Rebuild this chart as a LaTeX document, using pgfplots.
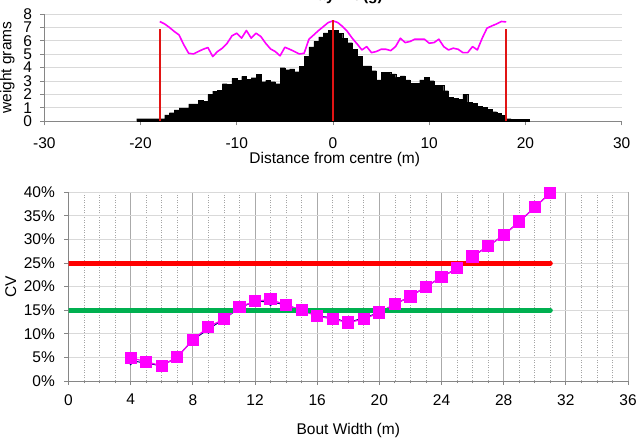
\documentclass[border=0pt]{standalone}
\usepackage{fontspec}
\setmainfont{Liberation Sans}
\usepackage{pgfplots}
\pgfplotsset{compat=1.18}
\definecolor{gridgray}{RGB}{217,217,217}
\definecolor{axisgray}{RGB}{134,134,134}
\definecolor{mingray}{RGB}{165,165,165}
\definecolor{majgray}{RGB}{170,170,170}
\definecolor{histred}{RGB}{225,20,20}
\definecolor{mag}{RGB}{255,0,255}
\definecolor{navyblue}{RGB}{0,0,128}
\definecolor{lgreen}{RGB}{0,176,80}
\begin{document}
\begin{tikzpicture}[font=\fontsize{15.5}{18.6}\selectfont]
\useasboundingbox (0,0) rectangle (636pt,438pt);
% ---------------- top chart ----------------
\begin{axis}[
  at={(44.3pt,316.7pt)}, anchor=south west, scale only axis,
  width=577.4pt, height=107.3pt,
  xmin=-30, xmax=30, ymin=0, ymax=8,
  axis x line*=bottom, axis y line*=left,
  axis line style={draw=axisgray, line width=0.8pt},
  xtick={-30,-20,...,30}, ytick={0,1,...,8},
  ymajorgrids, major grid style={draw=gridgray, line width=0.8pt},
  tick align=outside, major tick length=4pt,
  tick style={draw=axisgray, line width=0.8pt},
  /pgf/number format/assume math mode=true,
  xticklabel style={inner sep=0pt, anchor=north, yshift=-12pt},
  yticklabel style={inner sep=0pt, anchor=east, xshift=-8pt},
  title={Tray Wt (g)},
  title style={at={(axis description cs:0.517,1)}, anchor=base, yshift=7pt, font=\fontsize{15.5}{18.6}\selectfont\bfseries},
  xlabel={Distance from centre (m)},
  xlabel style={at={(axis description cs:0.503,0)}, anchor=base, yshift=-42pt},
  ylabel={weight grams},
  ylabel style={at={(axis description cs:-0.057,0.5)}, anchor=base},
  clip=false,
]
\addplot[const plot, fill=black, draw=black, line width=0.1pt] coordinates {
(-20.4,0.2) (-20,0.2) (-19.5,0.2) (-19,0.2) (-18.5,0.2) (-18,0.2) (-17.5,0.47) (-17,0.65)
(-16.5,0.85) (-16,1.0) (-15.5,1.0) (-15,1.3) (-14.5,1.3) (-14,1.55) (-13.5,1.5) (-13,2.0)
(-12.5,2.25) (-12,2.3) (-11.5,2.8) (-11,2.75) (-10.5,3.2) (-10,3.05) (-9.5,3.35) (-9,3.15)
(-8.5,3.25) (-8,3.5) (-7.5,2.95) (-7,3.05) (-6.5,2.95) (-6,2.8) (-5.5,4.0) (-5,3.85)
(-4.5,3.9) (-4,3.7) (-3.5,4.1) (-3,4.85) (-2.5,5.55) (-2,5.95) (-1.5,6.3) (-1,6.6)
(-0.5,6.8) (0,6.8) (0.5,6.57) (1,6.2) (1.5,5.87) (2,5.37) (2.5,4.83) (3,4.13)
(3.5,4.13) (4,3.78) (4.5,3.08) (5,3.65) (5.5,3.65) (6,3.53) (6.5,3.28) (7,3.38)
(7.5,3.08) (8,2.83) (8.5,2.83) (9,3.08) (9.5,3.28) (10,3.03) (10.5,2.7) (11,2.7)
(11.5,2.29) (12,1.79) (12.5,1.72) (13,1.64) (13.5,2.0) (14,1.42) (14.5,1.34) (15,1.14)
(15.5,1.04) (16,0.9) (16.5,0.72) (17,0.6) (17.5,0.45) (18,0.2) (18.5,0.17) (19,0.17)
(19.5,0.17) (20,0.17) (20.4,0.17)
} \closedcycle;
\addplot[mag, line width=1.6pt, line join=round] coordinates {
(-18,7.44) (-17.5,7.26) (-17,7.0) (-16.5,6.7) (-16,6.44) (-15.5,5.7) (-15,5.07) (-14.5,5.02)
(-14,5.2) (-13.5,5.37) (-13,5.5) (-12.5,4.83) (-12,5.2) (-11.5,5.45) (-11,5.82) (-10.5,6.37)
(-10,6.57) (-9.5,6.2) (-9,6.77) (-8.5,6.2) (-8,6.57) (-7.5,6.32) (-7,5.82) (-6.5,5.4)
(-6,5.2) (-5.5,4.88) (-5,5.52) (-4.5,5.37) (-4,5.2) (-3.5,5.02) (-3,5.07) (-2.5,6.12)
(-2,6.44) (-1.5,6.77) (-1,7.06) (-0.5,7.36) (0,7.49) (0.5,7.36) (1,7.06) (1.5,6.69)
(2,6.19) (2.5,5.77) (3,5.32) (3.5,5.57) (4,5.12) (4.5,5.2) (5,5.37) (5.5,5.37)
(6,5.27) (6.5,5.57) (7,6.19) (7.5,5.87) (8,5.95) (8.5,6.12) (9,6.12) (9.5,6.12)
(10,5.82) (10.5,5.87) (11,6.12) (11.5,5.57) (12,5.32) (12.5,5.45) (13,5.37) (13.5,5.12)
(14,5.12) (14.5,5.57) (15,5.32) (15.5,6.19) (16,6.94) (16.5,7.11) (17,7.26) (17.5,7.44)
(18,7.41)
};
\addplot[histred, line width=1.8pt] coordinates {(-18,0) (-18,6.87)};
\addplot[histred, line width=1.8pt] coordinates {(0,0) (0,7.56)};
\addplot[histred, line width=1.8pt] coordinates {(18,0) (18,6.87)};
\end{axis}
% ---------------- bottom chart ----------------
\begin{axis}[
  at={(68.5pt,57pt)}, anchor=south west, scale only axis,
  width=559.5pt, height=188.7pt,
  xmin=0, xmax=36, ymin=0, ymax=40,
  axis x line*=bottom, axis y line*=left,
  axis line style={draw=axisgray, line width=0.8pt},
  xtick={0,4,...,36}, minor x tick num=3,
  ytick={0,5,...,40},
  yticklabel={\pgfmathprintnumber{\tick}\%},
  ymajorgrids, xmajorgrids, xminorgrids,
  major grid style={draw=gridgray, line width=0.8pt},
  x grid style={draw=majgray, line width=0.7pt},
  minor x grid style={draw=mingray, line width=0.6pt, dash pattern=on 1pt off 1.5pt},
  tick align=outside, major tick length=4pt, minor tick length=2.5pt,
  tick style={draw=axisgray, line width=0.8pt},
  /pgf/number format/assume math mode=true,
  xticklabel style={inner sep=0pt, anchor=north, yshift=-9pt},
  yticklabel style={inner sep=0pt, anchor=east, xshift=-9.5pt},
  xlabel={Bout Width (m)},
  xlabel style={at={(axis description cs:0.5,0)}, anchor=base, yshift=-54pt},
  ylabel={CV},
  ylabel style={at={(axis description cs:-0.0938,0.5)}, anchor=base},
]
\addplot[navyblue, line width=1pt, mark=diamond*, mark size=4pt] coordinates {
(4,4.3) (5,3.8) (6,3.2) (7,5.1) (8,8.7) (9,11.0) (10,13.1) (11,15.5) (12,16.9) (13,16.8)
(14,16.1) (15,15.0) (16,13.8) (17,13.4) (18,12.4) (19,13.4) (20,14.5) (21,16.3) (22,17.9)
(23,20.0) (24,22.0) (25,23.9) (26,26.4) (27,28.6) (28,30.9) (29,33.8) (30,36.8) (31,39.9)
};
\addplot[mag, line width=1.2pt, mark=square*, mark size=5.5pt, mark options={fill=mag, draw=mag}] coordinates {
(4,4.9) (5,4.1) (6,3.2) (7,5.1) (8,8.7) (9,11.5) (10,13.1) (11,15.7) (12,16.9) (13,17.3)
(14,16.1) (15,15.0) (16,13.8) (17,13.1) (18,12.4) (19,13.1) (20,14.5) (21,16.3) (22,17.9)
(23,20.0) (24,22.0) (25,23.9) (26,26.4) (27,28.6) (28,30.9) (29,33.8) (30,36.8) (31,39.9)
};
\addplot[lgreen, line width=5pt, line cap=round] coordinates {(0,15) (31,15)};
\addplot[red, line width=5pt, line cap=round] coordinates {(0,25) (31,25)};
\end{axis}
\end{tikzpicture}
\end{document}
